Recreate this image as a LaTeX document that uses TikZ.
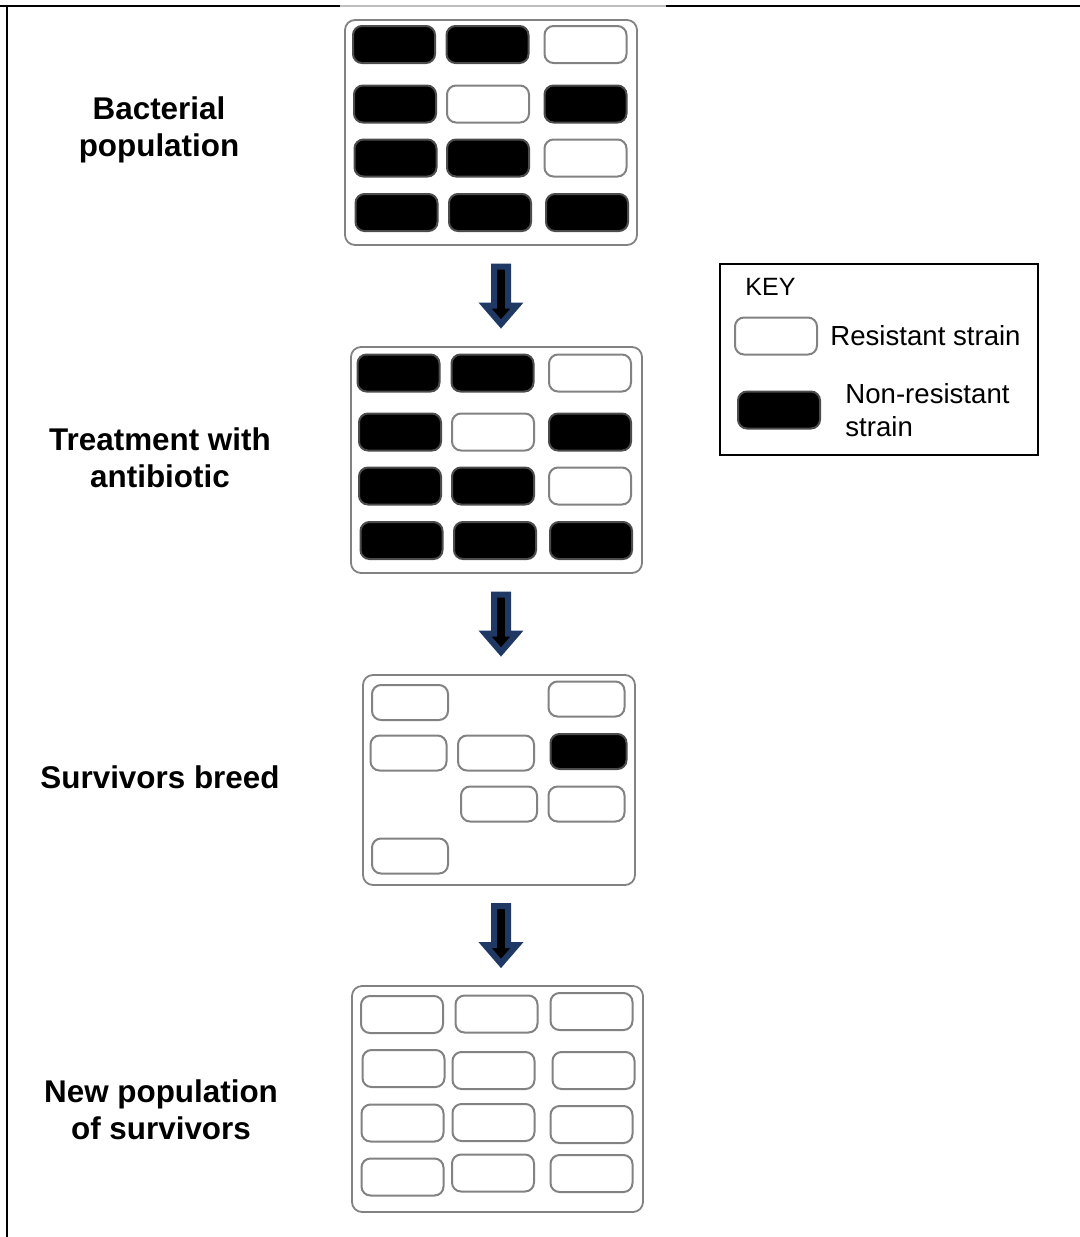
\documentclass[tikz,border=0pt]{standalone}
\usepackage{fontspec}
\setmainfont{Liberation Sans}
\usetikzlibrary{calc,positioning}
\definecolor{arrownavy}{RGB}{31,56,100}
\definecolor{edgegray}{RGB}{130,130,130}
\tikzset{
  panel/.style 2 args={draw=edgegray, line width=0.9pt, rounded corners=5pt,
    minimum width=#1, minimum height=#2, inner sep=0pt},
  resist/.style={draw=edgegray, line width=1pt, fill=white, rounded corners=4.5pt,
    minimum width=41pt, minimum height=18.5pt, inner sep=0pt},
  nonresist/.style={resist, fill=black, draw=black!70},
  resistsm/.style={resist, minimum width=38pt, minimum height=17.5pt},
  nonresistsm/.style={nonresist, minimum width=38pt, minimum height=17.5pt},
  stagetext/.style={font=\bfseries\fontsize{15.7}{18.4}\selectfont, align=center, inner sep=0pt},
  keytext/.style={font=\fontsize{13.8}{16.5}\selectfont, inner sep=0pt},
  blockarrow/.style={draw=arrownavy, fill=black, line width=3pt, line join=miter},
  downarrow/.pic={\draw[blockarrow] (-7,-29.5) -- (7,-29.5) -- (7,9.5) -- (16,9.5)
    -- (0,28) -- (-16,9.5) -- (-7,9.5) -- cycle;}
}
\begin{document}
\begin{tikzpicture}[x=0.5pt,y=-0.5pt]
    \useasboundingbox (0,0) rectangle (1080,1237);
    % page frame
    \draw[line width=1.3pt] (0,6) -- (340,6);
    \draw[black!25,line width=0.6pt] (340,6) -- (666,6);
    \draw[line width=1.3pt] (666,6) -- (1080,6);
    \draw[line width=1.3pt] (7,6) -- (7,1237);
    % panels
    \node[panel={146pt}{112.5pt}] (pop) at (491,132.5) {};
    \node[panel={145.5pt}{113pt}] (treat) at (496.5,460) {};
    \node[panel={136pt}{105pt}] (breed) at (499,780) {};
    \node[panel={145.5pt}{113pt}] (newpop) at (497.5,1099) {};
    % bacteria
    \foreach \cx/\cy/\kind [count=\i] in {394/44.5/nonresist, 487.5/44.5/nonresist, 585.5/44.5/resist,
      395/104/nonresist, 488/104/resist, 585.5/104/nonresist,
      395.5/158/nonresist, 488/158/nonresist, 585.5/158/resist,
      396.5/212.5/nonresist, 490/212.5/nonresist, 587/212.5/nonresist}
      \node[\kind] (pop\i) at (\cx,\cy) {};
    \foreach \cx/\cy/\kind [count=\i] in {398.5/373/nonresist, 492.5/373/nonresist, 590/373/resist,
      400/432/nonresist, 493/432/resist, 590/432/nonresist,
      400/486/nonresist, 493/486/nonresist, 590/486/resist,
      401.5/540.5/nonresist, 495/540.5/nonresist, 591/540.5/nonresist}
      \node[\kind] (treat\i) at (\cx,\cy) {};
    \foreach \cx/\cy/\kind [count=\i] in {410/702.5/resistsm, 586.5/699/resistsm,
      408.5/753/resistsm, 496/753/resistsm, 588.5/751.5/nonresistsm,
      499/804/resistsm, 586.5/804/resistsm, 410/856/resistsm}
      \node[\kind] (breed\i) at (\cx,\cy) {};
    \foreach \cx/\cy [count=\i] in {402/1014.5, 496.5/1014, 591.5/1011.5,
      403.5/1068.5, 493.5/1070.5, 593.5/1070.5,
      402.5/1123, 493.5/1122.5, 591.5/1124.5,
      402.5/1177, 493/1173, 591.5/1173.5}
      \node[resist] (newpop\i) at (\cx,\cy) {};
    % stage labels
    \node[stagetext] (poplab) at (159,130) {Bacterial\\population};
    \node[stagetext] (treatlab) at (160,458) {Treatment with\\antibiotic};
    \node[stagetext] (breedlab) at (160,777) {Survivors breed};
    \node[stagetext] (newpoplab) at (161,1110) {New population\\of survivors};
    % arrows between panels
    \coordinate (arrx) at (501,0);
    \coordinate (m1) at ($(pop.south)!0.5!(treat.north)$);
    \coordinate (m2) at ($(treat.south)!0.5!(breed.north)$);
    \coordinate (m3) at ($(breed.south)!0.5!(newpop.north)$);
    \pic at (m1 -| arrx) {downarrow};
    \pic at (m2 -| arrx) {downarrow};
    \pic at (m3 -| arrx) {downarrow};
    % key
    \node[draw, line width=1pt, minimum width=159pt, minimum height=95.5pt, inner sep=0pt] (key) at (879,359.5) {};
    \node[keytext, font=\fontsize{12.5}{15}\selectfont, anchor=base west] (keyhead) at (745,295) {KEY};
    \node[resist] (keyres) at (776,336) {};
    \node[keytext, anchor=base west] (keyrestext) at (830,345) {Resistant strain};
    \node[nonresist] (keynon) at (779,410) {};
    \node[keytext, anchor=west, align=left] (keynontext) at (845,410) {Non-resistant\\strain};
\end{tikzpicture}
\end{document}
